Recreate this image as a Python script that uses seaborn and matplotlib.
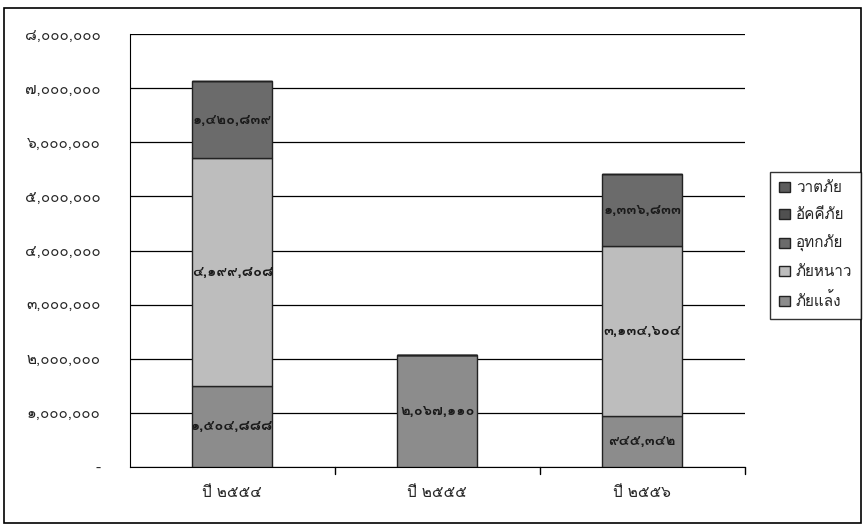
import matplotlib
matplotlib.use("Agg")
import matplotlib.pyplot as plt
from matplotlib import font_manager
from matplotlib.ft2font import FT2Font
from matplotlib.patches import Rectangle, Patch
import seaborn as sns
import pandas as pd

years = ["ปี ๒๕๕๔", "ปี ๒๕๕๕", "ปี ๒๕๕๖"]
series = ["ภัยแล้ง", "ภัยหนาว", "อุทกภัย", "อัคคีภัย", "วาตภัย"]
drought = [1504888, 2067110, 945342]
cold = [4199808, 0, 3134604]
flood = [1420839, 0, 1336833]
fire = [0, 0, 0]
storm = [0, 0, 0]
colors = ["#8c8c8c", "#bdbdbd", "#6b6b6b", "#505050", "#5c5c5c"]
y_ticks = [0, 1000000, 2000000, 3000000, 4000000, 5000000, 6000000, 7000000, 8000000]

THAI = str.maketrans("0123456789", "๐๑๒๓๔๕๖๗๘๙")


def thai_num(v):
    if v == 0:
        return "-"
    return f"{v:,.0f}".translate(THAI)


def find_thai_font():
    for f in font_manager.fontManager.ttflist:
        try:
            cmap = FT2Font(f.fname).get_charmap()
        except Exception:
            continue
        if ord("๕") in cmap and ord("ภ") in cmap:
            return f.name
    return "DejaVu Sans"


sns.set_style("white")
thai_font = find_thai_font()
plt.rcParams["font.family"] = [thai_font, "DejaVu Sans"]

df = pd.DataFrame({"year": years, "ภัยแล้ง": drought, "ภัยหนาว": cold,
                   "อุทกภัย": flood, "อัคคีภัย": fire, "วาตภัย": storm})

fig = plt.figure(figsize=(8.65, 5.28), dpi=100)
fig.patches.append(Rectangle((0.005, 0.01), 0.99, 0.975, transform=fig.transFigure,
                             fill=False, edgecolor="black", linewidth=1.2))
ax = fig.add_axes([0.150, 0.1155, 0.711, 0.82])

bottom = [0, 0, 0]
for name, col in zip(series, colors):
    vals = df[name].tolist()
    sns.barplot(data=df, x="year", y=name, color=col, width=0.39, bottom=bottom,
                edgecolor="#222222", linewidth=1.0, ax=ax, zorder=3)
    for i, v in enumerate(vals):
        if v > 0:
            ax.text(i, bottom[i] + v / 2, thai_num(v), ha="center", va="center",
                    fontsize=10.5, fontweight="bold", color="#1a1a1a", zorder=4)
    bottom = [b + v for b, v in zip(bottom, vals)]

ax.set_ylim(0, 8000000)
ax.set_xlim(-0.5, 2.5)
ax.set_yticks(y_ticks)
ax.set_yticklabels([thai_num(t) for t in y_ticks], fontsize=11)
ax.tick_params(axis="x", labelsize=11, length=0, pad=14)
ax.tick_params(axis="y", length=6, direction="inout", width=1, pad=18)
ax.set_xlabel("")
ax.set_ylabel("")
ax.grid(axis="y", color="black", linewidth=0.9, zorder=0)
for s in ["top", "right"]:
    ax.spines[s].set_visible(False)
ax.spines["left"].set_color("black")
ax.spines["bottom"].set_color("black")
for xb in [0.5, 1.5, 2.5]:
    ax.plot([xb, xb], [0, -120000], color="black", linewidth=1, clip_on=False)

handles = [Patch(facecolor=c, edgecolor="#222222", label=n)
           for n, c in zip(series, colors)][::-1]
leg = fig.legend(handles=handles, loc="upper left", bbox_to_anchor=(0.89, 0.674),
                 borderaxespad=0, frameon=True, fancybox=False, edgecolor="black",
                 fontsize=11, handlelength=0.7, handleheight=0.7, labelspacing=0.85,
                 handletextpad=0.4, borderpad=0.6)
leg.get_frame().set_linewidth(1.0)

fig.savefig("out.png", dpi=100)
